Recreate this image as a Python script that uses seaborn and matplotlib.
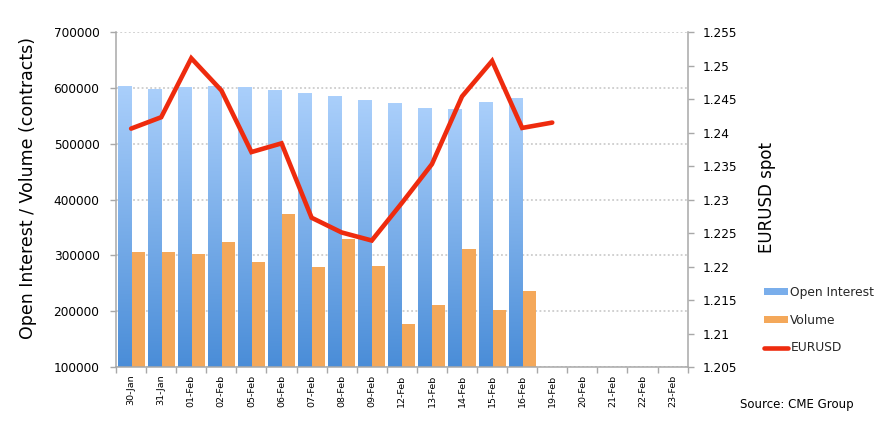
import numpy as np
import pandas as pd
import matplotlib
matplotlib.use("Agg")
import matplotlib.pyplot as plt
import seaborn as sns
from matplotlib.colors import LinearSegmentedColormap
from matplotlib.lines import Line2D
from matplotlib.patches import Patch

# ---------------- data ----------------
dates = ["30-Jan", "31-Jan", "01-Feb", "02-Feb", "05-Feb", "06-Feb", "07-Feb",
         "08-Feb", "09-Feb", "12-Feb", "13-Feb", "14-Feb", "15-Feb", "16-Feb",
         "19-Feb", "20-Feb", "21-Feb", "22-Feb", "23-Feb"]
open_interest = [603000, 597000, 601000, 602000, 601000, 596000, 590500,
                 585000, 577000, 571000, 563500, 561000, 574000, 580000]
volume = [305400, 307000, 303500, 325000, 287500, 375000, 278500,
          329600, 282000, 176800, 211000, 312500, 202000, 235700]
eurusd = [1.2406, 1.2423, 1.2511, 1.2463, 1.2371, 1.2384, 1.2273,
          1.2251, 1.2239, 1.2295, 1.2353, 1.2454, 1.2507, 1.2407, 1.2415]
left_ticks = [100000, 200000, 300000, 400000, 500000, 600000, 700000]
right_ticks = [1.205, 1.21, 1.215, 1.22, 1.225, 1.23, 1.235, 1.24,
               1.245, 1.25, 1.255]
right_tick_labels = ["1.205", "1.21", "1.215", "1.22", "1.225", "1.23",
                     "1.235", "1.24", "1.245", "1.25", "1.255"]

# ---------------- style ----------------
sns.set_theme(style="white")
plt.rcParams['font.family'] = ['DejaVu Sans']

BLUE_TOP = "#AACFFB"
BLUE_BOT = "#4A8DD8"
BLUE_MID = "#7AAEEB"
ORANGE = "#F4A85A"
RED = "#EE2B0E"
GREY = "#A8A8A8"

fig = plt.figure(figsize=(8.93, 4.34), dpi=100)
ax = fig.add_axes([0.130, 0.154, 0.640, 0.772])

n = len(dates)


def pad(v):
    return list(v) + [np.nan] * (n - len(v))


df = pd.DataFrame({
    "date": dates * 2,
    "series": ["Open Interest"] * n + ["Volume"] * n,
    "value": pad(open_interest) + pad(volume),
})

sns.barplot(data=df, x="date", y="value", hue="series", order=dates,
            hue_order=["Open Interest", "Volume"],
            palette={"Open Interest": BLUE_MID, "Volume": ORANGE},
            width=0.9, saturation=1, edgecolor="none", linewidth=0,
            legend=False, ax=ax, zorder=2)

ax.set_ylim(100000, 700000)
ax.set_xlim(-0.5, n - 0.5)

# gradient fill for open-interest bars
cmap = LinearSegmentedColormap.from_list("oi", [BLUE_BOT, BLUE_TOP])
grad = np.linspace(0, 1, 256).reshape(-1, 1)
target = matplotlib.colors.to_rgba(BLUE_MID)
for p in list(ax.patches):
    if np.allclose(p.get_facecolor(), target, atol=0.01) and p.get_height() > 0:
        x0 = p.get_x()
        w = p.get_width()
        top = p.get_y() + p.get_height()
        ax.imshow(grad, extent=[x0, x0 + w, 100000, top], origin="lower",
                  aspect="auto", cmap=cmap, zorder=2.1,
                  interpolation="bilinear")
        p.set_facecolor("none")
ax.set_ylim(100000, 700000)
ax.set_xlim(-0.5, n - 0.5)
ax.set_aspect("auto")

# axes styling
ax.set_yticks(left_ticks)
ax.set_yticklabels([str(t) for t in left_ticks])
ax.yaxis.grid(True, color="#C4C4C4", linestyle=(0, (1.2, 1.6)), linewidth=1.1, zorder=0)
ax.xaxis.grid(False)
ax.set_axisbelow(True)
ax.set_xticks(range(n))
ax.set_xticklabels(dates, rotation=90, fontsize=6.8)
ax.set_xticks(np.arange(-0.5, n, 1.0), minor=True)
ax.tick_params(axis="x", which="major", length=0, pad=5.5, labelcolor="black")
ax.tick_params(axis="x", which="minor", bottom=True, length=4, color=GREY, width=1)
ax.tick_params(axis="y", left=True, length=4, color=GREY, width=1, pad=8,
               labelsize=8.7, labelcolor="black")
ax.set_xlabel("")
ax.set_ylabel("Open Interest / Volume (contracts)", fontsize=12.5, color="black")
ax.yaxis.set_label_coords(-0.139, 0.534)
for side in ["top", "right"]:
    ax.spines[side].set_visible(False)
for side in ["left", "bottom"]:
    ax.spines[side].set_color(GREY)
    ax.spines[side].set_linewidth(1.1)

# EURUSD line on twin axis
ax2 = ax.twinx()
sns.lineplot(x=np.arange(len(eurusd)), y=eurusd, ax=ax2, color=RED,
             linewidth=3.3, solid_joinstyle="miter")
ax2.set_ylim(1.205, 1.255)
ax2.set_xlim(-0.5, n - 0.5)
ax2.set_yticks(right_ticks)
ax2.set_yticklabels(right_tick_labels)
ax2.tick_params(axis="y", right=True, length=4, color=GREY, width=1, pad=6.5,
                labelsize=8.7, labelcolor="black")
ax2.set_ylabel("EURUSD spot", fontsize=12, color="black")
ax2.yaxis.set_label_coords(1.124, 0.506)
for side in ["top", "left", "bottom"]:
    ax2.spines[side].set_visible(False)
ax2.spines["right"].set_color(GREY)
ax2.spines["right"].set_linewidth(1.1)
ax2.grid(False)

# legend
handles = [Patch(facecolor=BLUE_MID, edgecolor="none"),
           Patch(facecolor=ORANGE, edgecolor="none"),
           Line2D([0], [0], color=RED, linewidth=3.3)]
fig.legend(handles, ["Open Interest", "Volume", "EURUSD"],
           loc="upper left", bbox_to_anchor=(0.855, 0.341), frameon=False,
           fontsize=8.8, labelspacing=1.2, handlelength=2.0, handleheight=0.45,
           handletextpad=0.2, borderpad=0, borderaxespad=0)

fig.text(0.829, 0.067, "Source: CME Group", fontsize=8.5, va="center",
         ha="left", color="black")

fig.savefig("out.png", dpi=100)
